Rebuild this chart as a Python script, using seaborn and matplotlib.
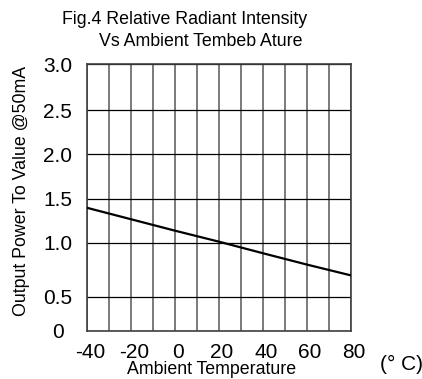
import numpy as np
import pandas as pd
import matplotlib
matplotlib.use("Agg")
import matplotlib.pyplot as plt
import matplotlib.transforms as mtransforms
import seaborn as sns
from matplotlib.ticker import MultipleLocator, FixedLocator

# ---- data ----
temperature = [-40, -20, 0, 20, 40, 60, 80]
relative_power = [1.40, 1.27, 1.14, 1.015, 0.905, 0.80, 0.70]
x_ticks = [-40, -20, 0, 20, 40, 60, 80]
y_ticks = [0, 0.5, 1.0, 1.5, 2.0, 2.5, 3.0]
y_tick_labels = ["0", "0.5", "1.0", "1.5", "2.0", "2.5", "3.0"]

# irregular vertical spacing of the original printed grid (scale breakpoints)
scale_vals = [0, 0.5, 1.0, 1.5, 2.0, 2.5, 3.0]
scale_pos = [0, 34, 88, 132, 177, 221, 267]

sns.set_style("white")
plt.rcParams['font.family'] = ['Liberation Sans', 'DejaVu Sans']
plt.rcParams['text.color'] = 'black'
plt.rcParams['xtick.color'] = 'black'
plt.rcParams['ytick.color'] = 'black'
plt.rcParams['axes.labelcolor'] = 'black'

fig = plt.figure(figsize=(4.22, 3.79), dpi=100)
ax = fig.add_axes([87/422, 1-331/379, 264/422, 267/379])

fwd = lambda v: np.interp(v, scale_vals, scale_pos)
inv = lambda p: np.interp(p, scale_pos, scale_vals)
ax.set_yscale('function', functions=(fwd, inv))

df = pd.DataFrame({"T": temperature, "P": relative_power})
sns.lineplot(data=df, x="T", y="P", ax=ax, color="black", linewidth=1.6, zorder=5)

ax.set_xlim(-40, 80)
ax.set_ylim(0, 3.0)
ax.xaxis.set_major_locator(FixedLocator(x_ticks))
ax.xaxis.set_minor_locator(MultipleLocator(10))
ax.yaxis.set_major_locator(FixedLocator(y_ticks))
ax.yaxis.set_minor_locator(FixedLocator([]))
ax.set_xticklabels([str(t) for t in x_ticks])
ax.set_yticklabels(y_tick_labels)

ax.grid(False)
ax.grid(True, axis='x', which='both', color='#707070', linewidth=1.3)
ax.grid(True, axis='y', which='major', color='black', linewidth=0.9)
ax.set_axisbelow(True)

for s in ax.spines.values():
    s.set_color('#404040')
    s.set_linewidth(1.2)

ax.tick_params(axis='x', which='both', length=0, pad=8.5, labelsize=15, labelcolor='black')
ax.tick_params(axis='y', which='both', length=0, pad=21, labelsize=15, labelcolor='black')
for lab in ax.get_yticklabels():
    lab.set_horizontalalignment('center')
shift = mtransforms.ScaledTranslation(3/100, 0, fig.dpi_scale_trans)
for lab in ax.get_xticklabels():
    lab.set_transform(lab.get_transform() + shift)

ax.set_xlabel("")
ax.set_ylabel("")

fig.text(185/422, 1-19/379, "Fig.4 Relative Radiant Intensity", ha='center', va='center', fontsize=12.8)
fig.text(201/422, 1-42/379, "Vs Ambient Tembeb Ature", ha='center', va='center', fontsize=12.8)
fig.text(212/422, 1-369/379, "Ambient Temperature", ha='center', va='center', fontsize=12.8)
fig.text(22/422, 1-191/379, "Output Power To Value @50mA", ha='center', va='center',
         rotation=90, fontsize=12.8)
fig.text(401/422, 1-364/379, "(° C)", ha='center', va='center', fontsize=15)

fig.savefig("out.png", dpi=100)
